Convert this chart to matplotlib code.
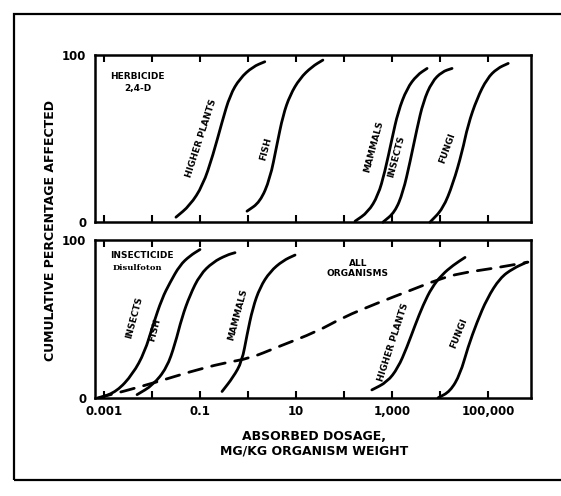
import numpy as np
import matplotlib
matplotlib.use("Agg")
from matplotlib import pyplot as plt
from matplotlib.patches import Rectangle, PathPatch
from matplotlib.path import Path

# log10 of dose (mg/kg) and cumulative percentage
# herbicide 2,4-D (upper panel)
herb_plants_x = [-1.50, -1.21, -0.94, -0.73, -0.54, -0.375, -0.17, 0.10, 0.35]
herb_plants_y = [3, 10, 22, 40, 60, 76, 86, 93, 96]
herb_fish_x = [-0.02, 0.25, 0.46, 0.60, 0.73, 0.875, 1.08, 1.33, 1.56]
herb_fish_y = [6.6, 12, 26, 46, 64, 76, 86, 93, 97]
herb_mammals_x = [2.23, 2.50, 2.71, 2.85, 3.00, 3.125, 3.31, 3.52, 3.73]
herb_mammals_y = [0.6, 6, 16, 30, 50, 66, 80, 88, 92]
herb_insects_x = [2.81, 3.06, 3.23, 3.375, 3.52, 3.65, 3.83, 4.04, 4.25]
herb_insects_y = [0, 6, 18, 36, 56, 72, 84, 90, 92]
herb_fungi_x = [3.79, 4.06, 4.27, 4.46, 4.58, 4.77, 4.98, 5.19, 5.42]
herb_fungi_y = [0, 8, 23, 42, 58, 74, 86, 92, 95]

# insecticide disulfoton (lower panel)
ins_insects_x = [-3.08, -2.73, -2.40, -2.15, -1.98, -1.79, -1.625, -1.42, -1.21, -1.0]
ins_insects_y = [0, 4, 15, 29, 46, 63, 73, 84, 90, 94]
ins_fish_x = [-2.31, -1.98, -1.69, -1.52, -1.375, -1.21, -1.0, -0.73, -0.44, -0.27]
ins_fish_y = [2, 8, 19, 34, 51, 65, 78, 86, 90.5, 92]
ins_mammals_x = [-0.54, -0.31, -0.125, -0.02, 0.10, 0.25, 0.46, 0.73, 0.98]
ins_mammals_y = [4, 13, 23, 40, 57, 70, 80, 87, 90.5]
ins_plants_x = [2.58, 2.90, 3.125, 3.31, 3.48, 3.65, 3.83, 4.04, 4.27, 4.52]
ins_plants_y = [5, 10, 19, 32, 46, 59, 70, 78, 84, 89]
ins_fungi_x = [3.96, 4.21, 4.42, 4.58, 4.77, 4.98, 5.25, 5.52, 5.81]
ins_fungi_y = [0, 4, 15, 32, 48, 63, 76, 82, 86]
all_org_x = [-3.125, -2.6, -1.9, -1.21, -0.52, 0.04, 0.6, 1.44, 1.98, 2.69, 3.375, 3.96, 4.42, 5.1, 5.83]
all_org_y = [0, 4, 10, 16.5, 22, 25, 32, 42, 51, 60, 68, 75, 79, 82, 86]

tick_exps = [-3, -2, -1, 0, 1, 2, 3, 4, 5]
tick_labels = ["0.001", "", "0.1", "", "10", "", "1,000", "", "100,000"]

fig = plt.figure(figsize=(5.61, 4.96), dpi=100)
fig.patch.set_facecolor("white")

# outer frame of the scanned figure
fig.add_artist(Rectangle((14 / 561, 1 - 480 / 496), 560 / 561, 466 / 496,
                         transform=fig.transFigure, fill=False, lw=1.6,
                         edgecolor="black", clip_on=False))

ax1 = fig.add_axes([0.169, 0.552, 0.778, 0.337])
ax2 = fig.add_axes([0.169, 0.198, 0.778, 0.318])

for ax in (ax1, ax2):
    ax.set_xscale("log")
    ax.set_xlim(10 ** -3.19, 10 ** 5.9)
    ax.set_ylim(0, 100)
    ax.set_xticks([10.0 ** e for e in tick_exps])
    ax.xaxis.set_minor_locator(matplotlib.ticker.NullLocator())
    ax.tick_params(axis="x", which="major", direction="in", length=5, width=1.5,
                   top=True, bottom=True, pad=5)
    ax.set_yticks([0, 100])
    ax.set_yticklabels(["0", "100"], fontsize=8.5, fontweight="bold")
    ax.tick_params(axis="y", length=0, pad=6)
    for s in ax.spines.values():
        s.set_linewidth(1.8)

ax1.set_xticklabels([""] * len(tick_exps))
ax2.set_xticklabels(tick_labels, fontsize=8.5, fontweight="bold")


def curve(ax, xs, ys, ls="solid"):
    # smooth quadratic path through the read points, midpoints taken in log space
    lx = np.asarray(xs, dtype=float)
    y = np.asarray(ys, dtype=float)
    verts = [(lx[0], y[0]), ((lx[0] + lx[1]) / 2, (y[0] + y[1]) / 2)]
    codes = [Path.MOVETO, Path.LINETO]
    for i in range(1, len(lx) - 1):
        verts += [(lx[i], y[i]), ((lx[i] + lx[i + 1]) / 2, (y[i] + y[i + 1]) / 2)]
        codes += [Path.CURVE3, Path.CURVE3]
    verts.append((lx[-1], y[-1]))
    codes.append(Path.LINETO)
    verts = np.array(verts)
    verts[:, 0] = np.power(10.0, verts[:, 0])
    p = PathPatch(Path(verts, codes), fill=False, lw=2.0, edgecolor="black",
                  linestyle=ls, capstyle="round", clip_on=False)
    ax.add_patch(p)
    return p


curve(ax1, herb_plants_x, herb_plants_y)
curve(ax1, herb_fish_x, herb_fish_y)
curve(ax1, herb_mammals_x, herb_mammals_y)
curve(ax1, herb_insects_x, herb_insects_y)
curve(ax1, herb_fungi_x, herb_fungi_y)

curve(ax2, ins_insects_x, ins_insects_y)
curve(ax2, ins_fish_x, ins_fish_y)
curve(ax2, ins_mammals_x, ins_mammals_y)
curve(ax2, ins_plants_x, ins_plants_y)
curve(ax2, ins_fungi_x, ins_fungi_y)
curve(ax2, all_org_x, all_org_y, ls=(0, (5, 3.5)))

lab = dict(fontsize=6.5, fontweight="bold", ha="center", va="center",
           rotation_mode="anchor")
# upper panel labels
ax1.text(10 ** -0.98, 50, "HIGHER PLANTS", rotation=72, **lab)
ax1.text(10 ** 0.37, 44, "FISH", rotation=75, **lab)
ax1.text(10 ** 2.62, 45, "MAMMALS", rotation=75, **lab)
ax1.text(10 ** 3.08, 39, "INSECTS", rotation=75, **lab)
ax1.text(10 ** 4.16, 44, "FUNGI", rotation=70, **lab)
ax1.text(10 ** -2.3, 87, "HERBICIDE", fontsize=6.5, fontweight="bold",
         ha="center", va="center")
ax1.text(10 ** -2.3, 80, "2,4-D", fontsize=6.5, fontweight="bold",
         ha="center", va="center")

# lower panel labels
ax2.text(10 ** -2.37, 51, "INSECTS", rotation=75, **lab)
ax2.text(10 ** -1.95, 43, "FISH", rotation=75, **lab)
ax2.text(10 ** -0.22, 53, "MAMMALS", rotation=75, **lab)
ax2.text(10 ** 3.03, 35, "HIGHER PLANTS", rotation=72, **lab)
ax2.text(10 ** 4.4, 41, "FUNGI", rotation=68, **lab)
ax2.text(10 ** -2.2, 90, "INSECTICIDE", fontsize=6.5, fontweight="bold",
         ha="center", va="center")
ax2.text(10 ** -2.3, 82, "Disulfoton", fontsize=6, fontweight="bold",
         family="DejaVu Serif", ha="center", va="center")
ax2.text(10 ** 2.29, 82, "ALL\nORGANISMS", fontsize=6.5, fontweight="bold",
         ha="center", va="center", linespacing=1.1)

fig.text(0.09, 0.535, "CUMULATIVE PERCENTAGE AFFECTED", rotation=90,
         fontsize=9, fontweight="bold", ha="center", va="center")
fig.text(0.56, 0.105, "ABSORBED DOSAGE,\nMG/KG ORGANISM WEIGHT",
         fontsize=9, fontweight="bold", ha="center", va="center",
         linespacing=1.2)

fig.savefig("out.png", dpi=100, facecolor="white")
